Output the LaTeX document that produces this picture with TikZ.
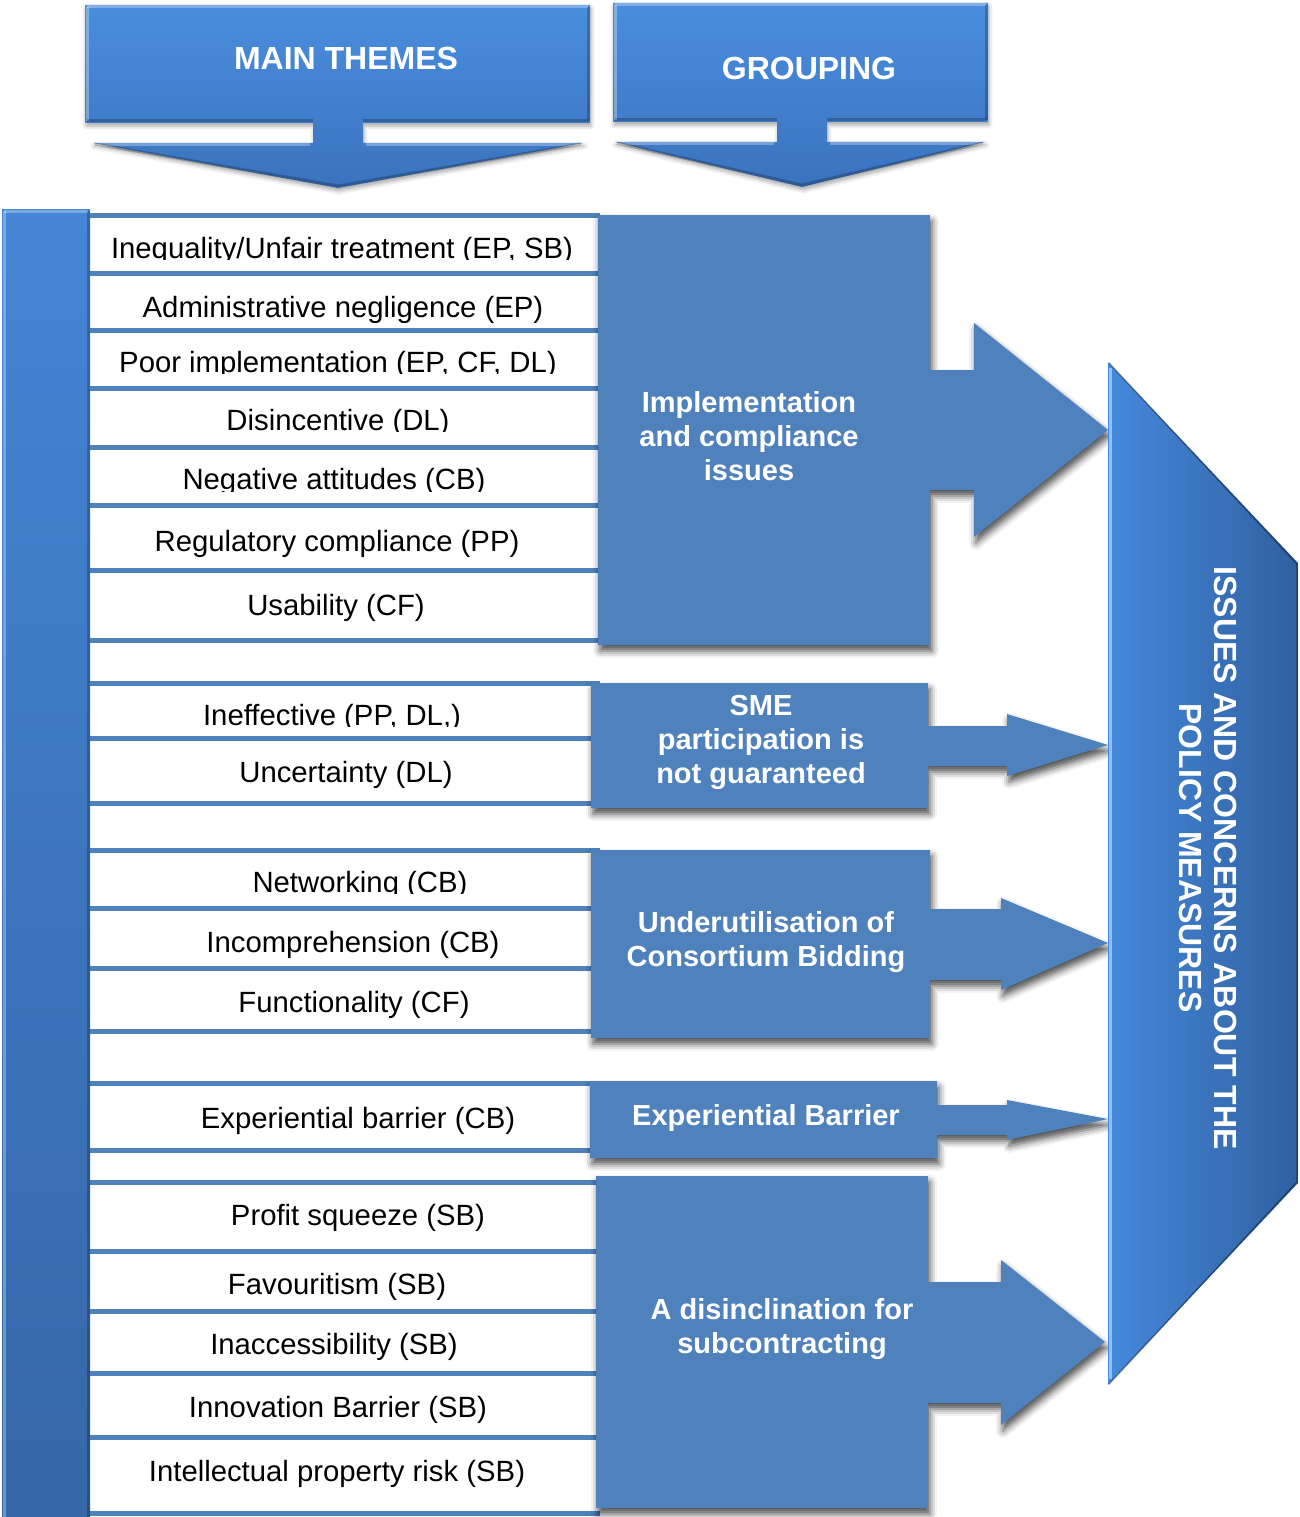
\documentclass[tikz,border=0pt]{standalone}
\usepackage{fontspec}
\setmainfont{Liberation Sans}
\usetikzlibrary{shadows.blur}

\definecolor{lineblue}{HTML}{4F81BD}
\definecolor{boxblue}{HTML}{4F81BD}
\definecolor{hdtop}{HTML}{4A8EDE}
\definecolor{hdbot}{HTML}{3A73BE}
\definecolor{bartop}{HTML}{4485D5}
\definecolor{barbot}{HTML}{3667A8}
\definecolor{bigl}{HTML}{4589DC}
\definecolor{bigr}{HTML}{30609F}
\definecolor{edgelight}{HTML}{8EC2F6}

\tikzset{
  rowline/.style={lineblue, line width=5pt},
  rowtext/.style={font=\fontsize{29.3}{33}\selectfont, text=black, anchor=base, inner sep=0pt},
  grouptext/.style={font=\fontsize{29}{34}\selectfont\bfseries, text=white, align=center, inner sep=0pt},
  headtext/.style={font=\fontsize{32}{36}\selectfont\bfseries, text=white, inner sep=0pt},
  sidetext/.style={font=\fontsize{32}{35}\selectfont\bfseries, text=white, align=center, inner sep=0pt, rotate=-90},
  callout/.style={fill=boxblue, blur shadow={shadow xshift=2pt, shadow yshift=-6pt, shadow blur radius=7pt, shadow opacity=70}},
  header/.style={top color=hdtop, bottom color=hdbot, blur shadow={shadow xshift=1pt, shadow yshift=-3pt, shadow blur radius=4pt, shadow opacity=35}},
  bevellight/.style={white, opacity=.30, line width=3pt},
  beveldark/.style={black, opacity=.22, line width=3pt},
}

\begin{document}
\begin{tikzpicture}[x=1pt,y=-1pt]
\useasboundingbox (0,0) rectangle (1300,1517);

% ---------- left vertical bar ----------
\shade[top color=bartop, bottom color=barbot] (2,209) rectangle (90,1517);
\draw[bevellight] (4,211) -- (88,211);
\draw[bevellight] (4,211) -- (4,1517);
\draw[beveldark] (88,211) -- (88,1517);

% ---------- theme rows ----------
\foreach \y in {215,273,330,388,447,505,570,640,
                683,738,803,
                850,908,968,1031,
                1083,1150,
                1182,1251,1311,1373,1437,1513}
  \draw[rowline] (90,\y) -- (600,\y);

\begin{scope}
  \clip (90,220) rectangle (600,259);
  \node[rowtext] (t1) at (342,258) {Inequality/Unfair treatment (EP, SB)};
\end{scope}
\node[rowtext] (t2) at (343,317) {Administrative negligence (EP)};
\begin{scope}
  \clip (90,335) rectangle (600,373);
  \node[rowtext] (t3) at (338,372) {Poor implementation (EP, CF, DL)};
\end{scope}
\begin{scope}
  \clip (90,392) rectangle (600,431);
  \node[rowtext] (t4) at (338,430) {Disincentive (DL)};
\end{scope}
\begin{scope}
  \clip (90,452) rectangle (600,491);
  \node[rowtext] (t5) at (334,489) {Negative attitudes (CB)};
\end{scope}
\node[rowtext] (t6) at (337,551) {Regulatory compliance (PP)};
\node[rowtext] (t7) at (336,615) {Usability (CF)};

\begin{scope}
  \clip (90,688) rectangle (600,726);
  \node[rowtext] (t8) at (332,725) {Ineffective (PP, DL,)};
\end{scope}
\node[rowtext] (t9) at (346,782) {Uncertainty (DL)};

\begin{scope}
  \clip (90,855) rectangle (600,893);
  \node[rowtext] (t10) at (360,892) {Networking (CB)};
\end{scope}
\node[rowtext] (t11) at (353,952) {Incomprehension (CB)};
\node[rowtext] (t12) at (354,1012) {Functionality (CF)};

\node[rowtext] (t13) at (358,1128) {Experiential barrier (CB)};

\node[rowtext] (t14) at (358,1225) {Profit squeeze (SB)};
\node[rowtext] (t15) at (337,1294) {Favouritism (SB)};
\node[rowtext] (t16) at (334,1354) {Inaccessibility (SB)};
\node[rowtext] (t17) at (338,1417) {Innovation Barrier (SB)};
\node[rowtext] (t18) at (337,1481) {Intellectual property risk (SB)};

% ---------- grouping callouts ----------
\fill[callout] (598,215) -- (930,215) -- (930,370) -- (974,370) -- (974,323)
  -- (1108,430) -- (974,537) -- (974,490) -- (930,490) -- (930,645) -- (598,645) -- cycle;
\node[grouptext] (g1) at (749,436) {Implementation\\and compliance\\issues};

\fill[callout] (591,683) -- (928,683) -- (928,726) -- (1007,726) -- (1007,714)
  -- (1108,745) -- (1007,776) -- (1007,766) -- (928,766) -- (928,808) -- (591,808) -- cycle;
\node[grouptext] (g2) at (761,742) {SME\\participation is\\not guaranteed};

\fill[callout] (591,850) -- (930,850) -- (930,909) -- (1001,909) -- (1001,898)
  -- (1108,943) -- (1001,990) -- (1001,980) -- (930,980) -- (930,1038) -- (591,1038) -- cycle;
\node[grouptext] (g3) at (766,942) {Underutilisation of\\Consortium Bidding};

\fill[callout] (590,1081) -- (937,1081) -- (937,1105) -- (1007,1105) -- (1007,1100)
  -- (1108,1119) -- (1007,1140) -- (1007,1135) -- (937,1135) -- (937,1158) -- (590,1158) -- cycle;
\node[grouptext] (g4) at (766,1118) {Experiential Barrier};

\fill[callout] (596,1176) -- (928,1176) -- (928,1282) -- (1001,1282) -- (1001,1260)
  -- (1105,1342) -- (1001,1425) -- (1001,1403) -- (928,1403) -- (928,1508) -- (596,1508) -- cycle;
\node[grouptext] (g5) at (782,1329) {A disinclination for\\subcontracting};

% ---------- column headers ----------
\shade[header] (85,5) -- (590,5) -- (590,123) -- (363,123) -- (363,143) -- (583,143)
  -- (338,188) -- (93,143) -- (313,143) -- (313,123) -- (85,123) -- cycle;
\draw[bevellight] (87,7) -- (588,7);
\draw[bevellight] (87,7) -- (87,121);
\draw[beveldark] (588,7) -- (588,121);
\draw[beveldark] (87,121) -- (313,121);
\draw[beveldark] (363,121) -- (588,121);
\draw[bevellight] (96,145) -- (310,145);
\draw[bevellight] (366,145) -- (580,145);
\draw[beveldark] (95,144) -- (338,186) -- (581,144);
\node[headtext] (h1) at (346,58) {MAIN THEMES};

\shade[header] (613,3) -- (988,3) -- (988,122) -- (827,122) -- (827,142) -- (985,142)
  -- (802,187) -- (615,142) -- (777,142) -- (777,122) -- (613,122) -- cycle;
\draw[bevellight] (615,5) -- (986,5);
\draw[bevellight] (615,5) -- (615,120);
\draw[beveldark] (986,5) -- (986,120);
\draw[beveldark] (615,120) -- (777,120);
\draw[beveldark] (827,120) -- (986,120);
\draw[bevellight] (618,144) -- (774,144);
\draw[bevellight] (830,144) -- (982,144);
\draw[beveldark] (617,143) -- (802,185) -- (983,143);
\node[headtext] (h2) at (809,68) {GROUPING};

% ---------- summary block on the right ----------
\shade[left color=bigl, right color=bigr] (1108,362) -- (1298,563) -- (1298,1183) -- (1108,1385) -- cycle;
\draw[edgelight, line width=3pt] (1110,368) -- (1110,1379);
\draw[black, opacity=.35, line width=1.5pt] (1109,363) -- (1297,564) -- (1297,1182) -- (1109,1384);
\node[sidetext] (side) at (1208,858) {ISSUES AND CONCERNS ABOUT THE\\POLICY MEASURES};

\end{tikzpicture}
\end{document}
